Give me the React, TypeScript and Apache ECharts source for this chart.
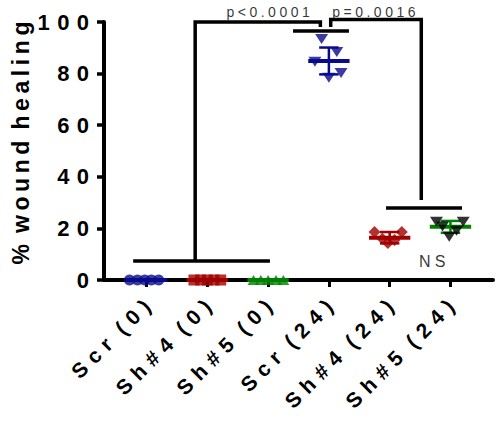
import React, { useEffect, useRef } from "react";
import * as echarts from "echarts";

const categories = ["Scr (0)", "Sh#4 (0)", "Sh#5 (0)", "Scr (24)", "Sh#4 (24)", "Sh#5 (24)"];
const yTicks = [0, 20, 40, 60, 80, 100];

// individual replicate values (% wound healing) and their horizontal jitter (category units)
const scr0 = [0, 0, 0, 0, 0];
const scr0Jitter = [-0.28, -0.15, -0.03, 0.08, 0.2];
const sh4_0 = [0, 0, 0, 0, 0];
const sh4_0Jitter = [-0.22, -0.11, 0, 0.11, 0.22];
const sh5_0 = [0, 0, 0, 0, 0];
const sh5_0Jitter = [-0.24, -0.12, 0, 0.13, 0.25];
const scr24 = [93.4, 88.4, 84.6, 80.2, 78.4];
const scr24Jitter = [-0.12, 0.13, -0.23, 0.2, 0.0];
const sh4_24 = [18.6, 18.6, 14.3, 16.0, 15.5];
const sh4_24Jitter = [-0.25, 0.2, -0.03, -0.12, 0.08];
const sh5_24 = [22.6, 22.6, 16.8, 19.1, 20.7];
const sh5_24Jitter = [-0.23, 0.21, -0.02, 0.1, -0.13];

// group means and SD
const means = [0, 0, 0, 84.9, 16.4, 20.6];
const sds = [0, 0, 0, 5.2, 2.2, 2.3];

// significance annotations (x in category units, y in % units)
const barZero = [[0.78, 7.4], [3.03, 7.4]];
const bracketA = [[1.8, 7.4], [1.8, 100], [3.86, 100], [3.86, 98.1]];
const barScr24 = [[3.41, 96.5], [4.33, 96.5]];
const bracketB = [[4.03, 98.1], [4.03, 101], [5.52, 101], [5.52, 31]];
const bar24 = [[4.94, 27.9], [6.19, 27.9]];
const annotations = [
  { x: 3.0, y: 103.9, text: "p<0.0001", size: 14 },
  { x: 4.74, y: 103.9, text: "p=0.0016", size: 14 },
  { x: 5.7, y: 7.0, text: "NS", size: 16 },
];

const FONT = "'Liberation Sans', Arial, sans-serif";
const spaced = (s: string, gap: string, wordGap: string) =>
  s.split(" ").map((w) => w.split("").join(gap)).join(wordGap);

const colors = ["#0a0a8c", "#a00000", "#008000", "#0a0a8c", "#a00000", "#008000"];
const pointColors = ["#0a0a8c", "#a00000", "#008000", "#0a0a8c", "#a00000", "#000000"];

export default function App() {
  const ref = useRef<HTMLDivElement>(null);
  useEffect(() => {
    if (!ref.current) return;
    const chart = echarts.init(ref.current, null, { renderer: "svg" });

    const groups = [
      { vals: scr0, jit: scr0Jitter, symbol: "circle", size: 11, rot: 0 },
      { vals: sh4_0, jit: sh4_0Jitter, symbol: "rect", size: 11, rot: 0 },
      { vals: sh5_0, jit: sh5_0Jitter, symbol: "triangle", size: [12, 10], rot: 0 },
      { vals: scr24, jit: scr24Jitter, symbol: "triangle", size: [13, 10], rot: 180 },
      { vals: sh4_24, jit: sh4_24Jitter, symbol: "diamond", size: [12, 12], rot: 0 },
      { vals: sh5_24, jit: sh5_24Jitter, symbol: "triangle", size: [13, 10], rot: 180 },
    ];

    const lineSeries = (data: number[][]) => ({
      type: "line",
      data,
      symbol: "none",
      clip: false,
      silent: true,
      lineStyle: { color: "#000", width: 3.5, join: "miter", cap: "butt" },
      z: 3,
    });

    const series: any[] = [];
    series.push({
      type: "custom",
      clip: false,
      z: 2,
      data: means.map((m, i) => [i + 1, m, sds[i], i]),
      renderItem: (params: any, api: any) => {
        const x = api.value(0);
        const m = api.value(1);
        const s = api.value(2);
        const idx = api.value(3);
        const c = api.coord([x, m]);
        const top = api.coord([x, m + s]);
        const bot = api.coord([x, m - s]);
        const hw = api.size([0.34, 0])[0];
        const cw = api.size([0.16, 0])[0];
        const col = colors[idx];
        const st = { stroke: col, lineWidth: 2.5 };
        return {
          type: "group",
          children: [
            { type: "line", shape: { x1: c[0], y1: top[1], x2: c[0], y2: bot[1] }, style: st },
            { type: "line", shape: { x1: c[0] - cw, y1: top[1], x2: c[0] + cw, y2: top[1] }, style: st },
            { type: "line", shape: { x1: c[0] - cw, y1: bot[1], x2: c[0] + cw, y2: bot[1] }, style: st },
            { type: "line", shape: { x1: c[0] - hw, y1: c[1], x2: c[0] + hw, y2: c[1] }, style: { stroke: col, lineWidth: 4 } },
          ],
        };
      },
    });
    groups.forEach((g, i) => {
      series.push({
        type: "scatter",
        clip: false,
        z: 4,
        symbol: g.symbol,
        symbolSize: g.size,
        symbolRotate: g.rot,
        itemStyle: { color: pointColors[i] },
        data: g.vals.map((v, k) => [i + 1 + g.jit[k], v]),
      });
    });
    [barZero, bracketA, barScr24, bracketB, bar24].forEach((d) => series.push(lineSeries(d)));
    annotations.forEach((a) => {
      series.push({
        type: "scatter",
        clip: false,
        symbolSize: 0,
        silent: true,
        z: 5,
        data: [{ value: [a.x, a.y], name: a.text }],
        label: {
          show: true,
          position: "inside",
          formatter: (p: any) => spaced(p.name, "\u2005", "\u2005\u2005"),
          color: "#000",
          fontFamily: FONT,
          fontSize: a.size,
        },
      });
    });

    chart.setOption({
      animation: false,
      backgroundColor: "#fff",
      grid: { left: 104, right: 7, top: 22, bottom: 143, containLabel: false },
      xAxis: {
        type: "value",
        min: 0.3,
        max: 6.7,
        splitLine: { show: false },
        axisLine: { show: true, onZero: false, lineStyle: { color: "#000", width: 4 } },
        axisTick: {
          show: true,
          customValues: [1, 2, 3, 4, 5, 6],
          length: 7,
          lineStyle: { color: "#000", width: 3 },
        },
        axisLabel: {
          show: true,
          customValues: [1, 2, 3, 4, 5, 6],
          rotate: 45,
          margin: 23,
          formatter: (v: number) =>
            spaced(categories[Math.round(v) - 1] || "", "\u2004", "\u2004\u2004"),
          color: "#000",
          fontFamily: FONT,
          fontWeight: "bold",
          fontSize: 21,
        },
      },
      yAxis: {
        type: "value",
        min: 0,
        max: 100,
        interval: 20,
        splitLine: { show: false },
        axisLine: { show: true, lineStyle: { color: "#000", width: 4 } },
        axisTick: { show: true, length: 7, lineStyle: { color: "#000", width: 3.5 } },
        axisLabel: {
          margin: 15,
          formatter: (v: number) => (yTicks.includes(v) ? spaced(String(v), "\u2004", "") : ""),
          color: "#000",
          fontFamily: FONT,
          fontWeight: "bold",
          fontSize: 22,
        },
      },
      graphic: [
        {
          type: "text",
          x: 21,
          y: 143,
          rotation: Math.PI / 2,
          style: {
            text: spaced("% wound healing", "\u2009", " \u2009"),
            align: "center",
            verticalAlign: "middle",
            font: `bold 23px ${FONT}`,
            fill: "#000",
          },
        },
      ],
      series,
    });
    return () => chart.dispose();
  }, []);
  return (
    <div
      ref={ref}
      style={{ position: "fixed", left: 0, top: 0, width: 500, height: 423, background: "#fff" }}
    />
  );
}
